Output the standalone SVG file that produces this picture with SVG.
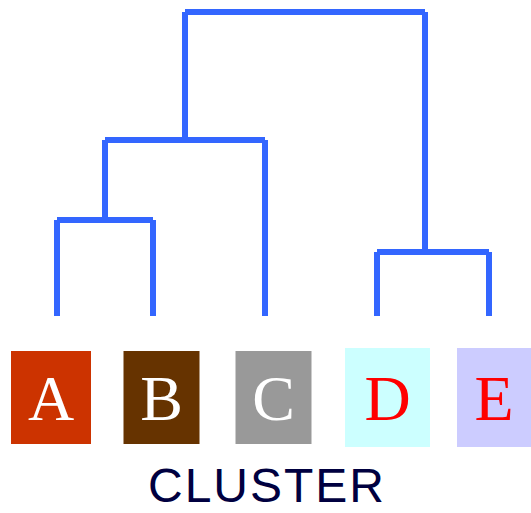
<svg xmlns="http://www.w3.org/2000/svg" width="531" height="513" viewBox="0 0 531 513">
<style>
.ln{stroke:#3366FF;stroke-width:6;fill:none;stroke-linecap:butt}
.lt{font-family:"Liberation Serif","Times New Roman",serif;font-size:64px;text-anchor:middle}
.w{fill:#FFFFFF}.r{fill:#FF0000}
.cap{font-family:"Liberation Sans",Arial,sans-serif;font-size:48px;letter-spacing:2px;fill:#000040;text-anchor:middle}
</style>
<rect width="531" height="513" fill="#FFFFFF"/>
<g id="connectors">
<path class="ln" d="M185 12H425M185 12V140M425 12V252"/>
<path class="ln" d="M105 140H265M105 140V220M265 140V316"/>
<path class="ln" d="M57 220H153M57 220V316M153 220V316"/>
<path class="ln" d="M377 252H489M377 252V316M489 252V316"/>
</g>
<g id="A"><rect x="11" y="351" width="80" height="93" fill="#CC3300"/><text class="lt w" x="51" y="420">A</text></g>
<g id="B"><rect x="123.5" y="351" width="76" height="93" fill="#663300"/><text class="lt w" x="161.5" y="420">B</text></g>
<g id="C"><rect x="235.5" y="351" width="76" height="93" fill="#999999"/><text class="lt w" x="273.5" y="420">C</text></g>
<g id="D"><rect x="345" y="348" width="85" height="99" fill="#CCFFFF"/><text class="lt r" x="387.5" y="420">D</text></g>
<g id="E"><rect x="457" y="348" width="74" height="99" fill="#CCCCFF"/><text class="lt r" x="494" y="420">E</text></g>
<text id="title" class="cap" x="267" y="502">CLUSTER</text>
</svg>
